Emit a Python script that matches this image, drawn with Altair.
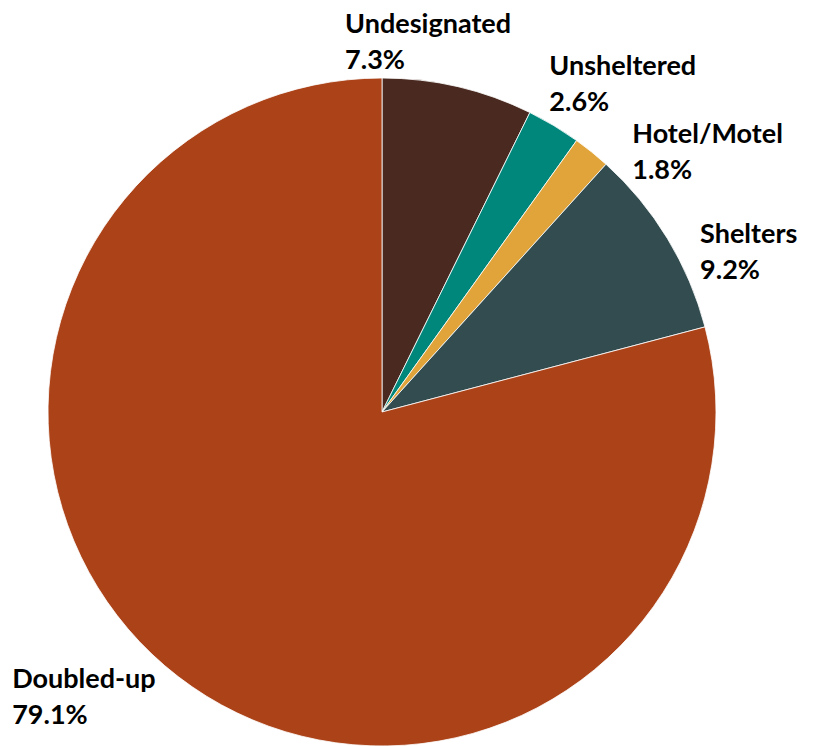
import altair as alt
import pandas as pd

# Data (percent of total)
categories = ["Undesignated", "Unsheltered", "Hotel/Motel", "Shelters", "Doubled-up"]
values = [7.3, 2.6, 1.8, 9.2, 79.1]
colors = ["#4a2a20", "#00877b", "#e0a43a", "#324c4f", "#ab4218"]

df = pd.DataFrame({"cat": categories, "value": values, "idx": list(range(len(categories)))})

# label layout (style): nudge from the slice mid-angle anchor
label_nudge = {
    "Undesignated": (-121, -27),
    "Unsheltered": (-23, -28),
    "Hotel/Motel": (18, 11),
    "Shelters": (2, 15),
    "Doubled-up": (-144, -25),
}

theta_scale = alt.Scale(domain=[0, 100])

pie = (
    alt.Chart(df)
    .mark_arc(outerRadius=334, stroke="#ffffff", strokeWidth=0.8)
    .encode(
        theta=alt.Theta("value:Q", stack=True, scale=theta_scale),
        order=alt.Order("idx:Q", sort="ascending"),
        color=alt.Color(
            "cat:N",
            scale=alt.Scale(domain=categories, range=colors),
            legend=None,
        ),
    )
)

stacked = (
    alt.Chart(df)
    .transform_stack(
        stack="value", as_=["v0", "v1"], groupby=[], sort=[alt.SortField("idx", order="ascending")]
    )
    .transform_calculate(
        mid="(datum.v0 + datum.v1) / 2",
        label="datum.cat + '\\n' + format(datum.value, '.1f') + '%'",
    )
)

layers = [pie]
for cat in categories:
    dx, dy = label_nudge[cat]
    layers.append(
        stacked.transform_filter(alt.datum.cat == cat)
        .mark_text(
            radius=370,
            align="left",
            baseline="middle",
            dx=dx,
            dy=dy,
            font="Lato",
            fontSize=27,
            fontWeight="bold",
            color="#000000",
            lineBreak="\n",
            lineHeight=36,
        )
        .encode(
            theta=alt.Theta("mid:Q", stack=None, scale=theta_scale),
            text="label:N",
        )
    )

chart = (
    alt.layer(*layers)
    .properties(
        width=748,
        height=788,
        padding={"left": 0, "top": 10, "right": 44, "bottom": 0},
        autosize=alt.AutoSizeParams(type="none"),
    )
    .configure_view(stroke=None)
)

chart.save("out.html", embed_options={"renderer": "svg", "actions": False})
